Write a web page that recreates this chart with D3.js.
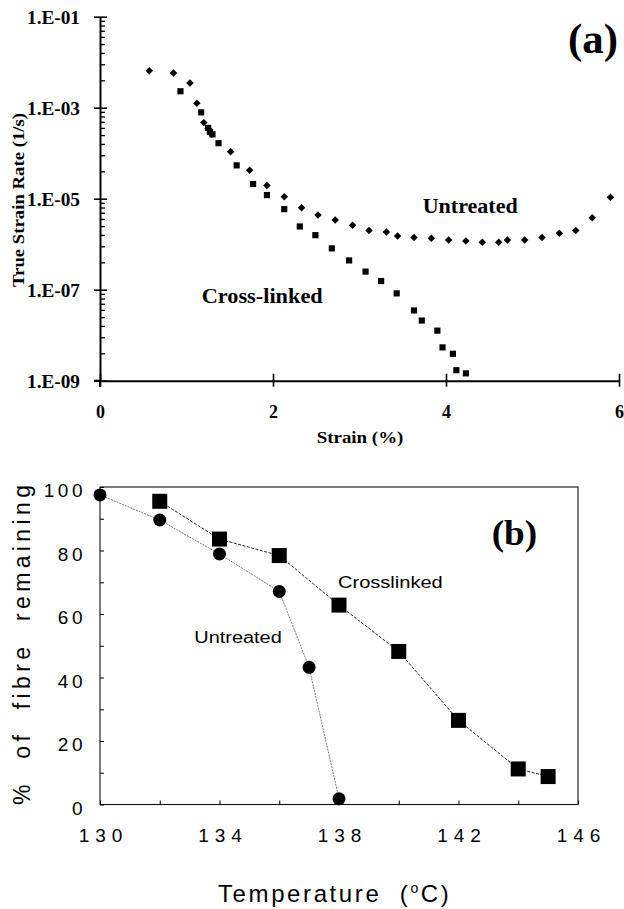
<!DOCTYPE html>
<html>
<head>
<meta charset="utf-8">
<script src="https://cdn.jsdelivr.net/npm/d3@7"></script>
<style>
  body { margin: 0; background: #fff; }
  svg { display: block; }
</style>
</head>
<body>
<svg id="fig" width="624" height="909"></svg>
<script>
/* global d3 */

// ---- panel (a): strain rate vs strain ----
var strainUntreated = [0.57, 0.85, 1.04, 1.12, 1.20, 1.25, 1.29, 1.51, 1.73, 1.93, 2.13, 2.33, 2.52, 2.72, 2.92, 3.11,
  3.31, 3.44, 3.63, 3.83, 4.03, 4.23, 4.42, 4.61, 4.71, 4.91, 5.11, 5.31, 5.50, 5.69, 5.90];
var rateUntreated = [6.5e-3, 5.8e-3, 3.5e-3, 1.26e-3, 4.7e-4, 3.5e-4, 2.6e-4, 1.07e-4, 4.2e-5, 1.95e-5, 1.1e-5, 6.3e-6,
  4.4e-6, 3.4e-6, 2.6e-6, 2.0e-6, 1.86e-6, 1.51e-6, 1.41e-6, 1.35e-6, 1.23e-6, 1.17e-6, 1.1e-6, 1.1e-6, 1.23e-6,
  1.23e-6, 1.41e-6, 1.74e-6, 2.0e-6, 3.8e-6, 1.07e-5];
var strainCrosslinked = [0.93, 1.17, 1.25, 1.27, 1.30, 1.37, 1.58, 1.77, 1.93, 2.13, 2.31, 2.49, 2.68, 2.88, 3.07, 3.25,
  3.43, 3.63, 3.72, 3.90, 3.96, 4.08, 4.12, 4.23];
var rateCrosslinked = [2.3e-3, 7.9e-4, 3.6e-4, 2.95e-4, 2.6e-4, 1.66e-4, 5.4e-5, 2.1e-5, 1.2e-5, 5.9e-6, 2.45e-6, 1.58e-6,
  8.1e-7, 4.4e-7, 2.5e-7, 1.55e-7, 8.3e-8, 3.5e-8, 2.1e-8, 1.26e-8, 5.4e-9, 3.9e-9, 1.7e-9, 1.45e-9];
var rateTicks = [1e-9, 1e-7, 1e-5, 1e-3, 1e-1];
var rateTickLabels = ["1.E-09", "1.E-07", "1.E-05", "1.E-03", "1.E-01"];
var strainTicks = [0, 2, 4, 6];

// ---- panel (b): fibre remaining vs temperature ----
var tempUntreated = [130, 132, 134, 136, 137, 138];
var remainUntreated = [97.5, 89.6, 78.9, 67.1, 43.2, 1.8];
var tempCrosslinked = [132, 134, 136, 138, 140, 142, 144, 145];
var remainCrosslinked = [95.5, 83.6, 78.4, 62.8, 48.2, 26.5, 11.2, 8.8];
var tempTicks = [130, 132, 134, 136, 138, 140, 142, 144, 146];
var remainTicks = [0, 10, 20, 30, 40, 50, 60, 70, 80, 90, 100];

var svg = d3.select("#fig");
var serif = "'Liberation Serif', 'Times New Roman', serif";
var sans = "'Liberation Sans', Arial, sans-serif";

function label(txt, x, y, size, len, family, weight) {
  return svg.append("text")
    .attr("x", x).attr("y", y)
    .attr("textLength", len).attr("lengthAdjust", "spacingAndGlyphs")
    .style("font-family", family)
    .style("font-weight", weight || "normal")
    .style("font-size", size + "px")
    .text(txt);
}

// ================= panel (a) =================
var xA = d3.scaleLinear().domain([0, 6]).range([100, 619]);
var yA = d3.scaleLog().domain([1e-9, 1e-1]).range([380.7, 16.7]);

var yAxisA = svg.append("g")
  .attr("transform", "translate(100,0)")
  .call(d3.axisLeft(yA).tickValues(rateTicks).tickSize(6).tickSizeOuter(0)
    .tickFormat(function (d, i) { return rateTickLabels[i]; }));
yAxisA.select(".domain").attr("stroke-width", 2);
yAxisA.selectAll(".tick line").attr("x1", 7).attr("stroke-width", 1.6);
yAxisA.selectAll(".tick text")
  .attr("x", -20).attr("dy", "0.35em")
  .attr("textLength", 53).attr("lengthAdjust", "spacingAndGlyphs")
  .style("font-family", serif).style("font-weight", "bold").style("font-size", "18px")
  .attr("fill", "#000");

// excel-style minor ticks (base-100 log: k^2 steps)
var minorTicks = [];
rateTicks.slice(0, -1).forEach(function (b) {
  for (var k = 2; k <= 9; ++k) minorTicks.push(b * k * k);
});
var minorA = svg.append("g")
  .attr("transform", "translate(100,0)")
  .call(d3.axisRight(yA).tickValues(minorTicks).tickSize(5).tickFormat(""));
minorA.select(".domain").remove();
minorA.selectAll(".tick line").attr("stroke-width", 1.3);

var xAxisA = svg.append("g")
  .attr("transform", "translate(0,380.7)")
  .call(d3.axisBottom(xA).tickValues(strainTicks).tickSize(6).tickSizeOuter(0)
    .tickFormat(d3.format("d")));
xAxisA.select(".domain").attr("stroke-width", 2);
xAxisA.selectAll(".tick line").attr("y1", -7).attr("stroke-width", 1.6);
xAxisA.selectAll(".tick text")
  .attr("y", 37).attr("dy", 0)
  .style("font-family", serif).style("font-weight", "bold").style("font-size", "18px")
  .attr("fill", "#000");
// small overhang of axes past the origin
svg.append("line").attr("x1", 94).attr("x2", 100).attr("y1", 380.7).attr("y2", 380.7)
  .attr("stroke", "#000").attr("stroke-width", 2);
svg.append("line").attr("x1", 100).attr("x2", 100).attr("y1", 380.7).attr("y2", 387)
  .attr("stroke", "#000").attr("stroke-width", 2);

var untreatedA = strainUntreated.map(function (s, i) { return [s, rateUntreated[i]]; });
var crossA = strainCrosslinked.map(function (s, i) { return [s, rateCrosslinked[i]]; });

svg.append("g").selectAll("path")
  .data(crossA).join("path")
  .attr("transform", function (d) { return "translate(" + xA(d[0]) + "," + yA(d[1]) + ")"; })
  .attr("d", d3.symbol(d3.symbolSquare, 38))
  .attr("fill", "#000");

svg.append("g").selectAll("path")
  .data(untreatedA).join("path")
  .attr("transform", function (d) { return "translate(" + xA(d[0]) + "," + yA(d[1]) + ") rotate(45)"; })
  .attr("d", d3.symbol(d3.symbolSquare, 28))
  .attr("fill", "#000");

label("True Strain Rate (1/s)", 0, 0, 16, 174, serif, "bold")
  .attr("text-anchor", "middle")
  .attr("transform", "translate(23.5,200) rotate(-90)");
label("Strain (%)", 316.7, 443.3, 17, 86.7, serif, "bold");
label("(a)", 568, 53, 42, 50, serif, "bold");
label("Untreated", 422.7, 213, 22, 95, serif, "bold");
label("Cross-linked", 201.7, 303, 22, 121, serif, "bold");

// ================= panel (b) =================
var xB = d3.scaleLinear().domain([130, 146]).range([100, 578]);
var yB = d3.scaleLinear().domain([0, 100]).range([804.5, 487]);

svg.append("rect")
  .attr("x", xB(130)).attr("y", yB(100))
  .attr("width", xB(146) - xB(130)).attr("height", yB(0) - yB(100))
  .attr("fill", "none").attr("stroke", "#111").attr("stroke-width", 1.1);

var xAxisB = svg.append("g")
  .attr("transform", "translate(0," + yB(0) + ")")
  .call(d3.axisBottom(xB).tickValues(tempTicks).tickSize(-4).tickSizeOuter(0)
    .tickFormat(function (d) { return (d - 130) % 4 === 0 ? d : ""; }));
xAxisB.select(".domain").remove();
xAxisB.selectAll(".tick text")
  .attr("y", 37).attr("dy", 0).attr("dx", 3)
  .style("font-family", sans).style("font-size", "19px").style("letter-spacing", "6px")
  .attr("fill", "#000");

var yAxisB = svg.append("g")
  .attr("transform", "translate(" + xB(130) + ",0)")
  .call(d3.axisLeft(yB).tickValues(remainTicks).tickSize(-4).tickSizeOuter(0)
    .tickFormat(function (d) { return d % 20 === 0 ? d : ""; }));
yAxisB.select(".domain").remove();
yAxisB.selectAll(".tick text")
  .attr("x", -14).attr("y", 3.5)
  .style("font-family", sans).style("font-size", "19px").style("letter-spacing", "3.5px")
  .attr("fill", "#000");

var untreatedB = tempUntreated.map(function (t, i) { return [t, remainUntreated[i]]; });
var crossB = tempCrosslinked.map(function (t, i) { return [t, remainCrosslinked[i]]; });
var lineB = d3.line()
  .x(function (d) { return xB(d[0]); })
  .y(function (d) { return yB(d[1]); });

svg.append("path").datum(untreatedB)
  .attr("d", lineB).attr("fill", "none")
  .attr("stroke", "#555").attr("stroke-width", 0.8).attr("stroke-dasharray", "2,1");
svg.append("path").datum(crossB)
  .attr("d", lineB).attr("fill", "none")
  .attr("stroke", "#222").attr("stroke-width", 1).attr("stroke-dasharray", "3,1.5");

svg.append("g").selectAll("circle")
  .data(untreatedB).join("circle")
  .attr("cx", function (d) { return xB(d[0]); })
  .attr("cy", function (d) { return yB(d[1]); })
  .attr("r", 6.5).attr("fill", "#000");

svg.append("g").selectAll("rect")
  .data(crossB).join("rect")
  .attr("x", function (d) { return xB(d[0]) - 7.5; })
  .attr("y", function (d) { return yB(d[1]) - 7.5; })
  .attr("width", 15).attr("height", 15).attr("fill", "#000");

label("%  of  fibre  remaining", 0, 0, 23, 320, sans)
  .attr("lengthAdjust", "spacing")
  .style("white-space", "pre")
  .attr("text-anchor", "middle")
  .attr("transform", "translate(30,645) rotate(-90)");
svg.append("text")
  .attr("x", 218).attr("y", 901.7)
  .style("font-family", sans).style("font-size", "24px").style("letter-spacing", "2.6px")
  .style("white-space", "pre")
  .call(function (t) {
    t.append("tspan").text("Temperature  (");
    t.append("tspan").attr("dy", -9).style("font-size", "14px").text("o");
    t.append("tspan").attr("dy", 9).text("C)");
  });
label("(b)", 491.7, 545, 36, 45.6, serif, "bold");
label("Crosslinked", 338, 587.7, 16, 104.7, sans);
label("Untreated", 194.3, 643.3, 16, 87.4, sans);
</script>
</body>
</html>
